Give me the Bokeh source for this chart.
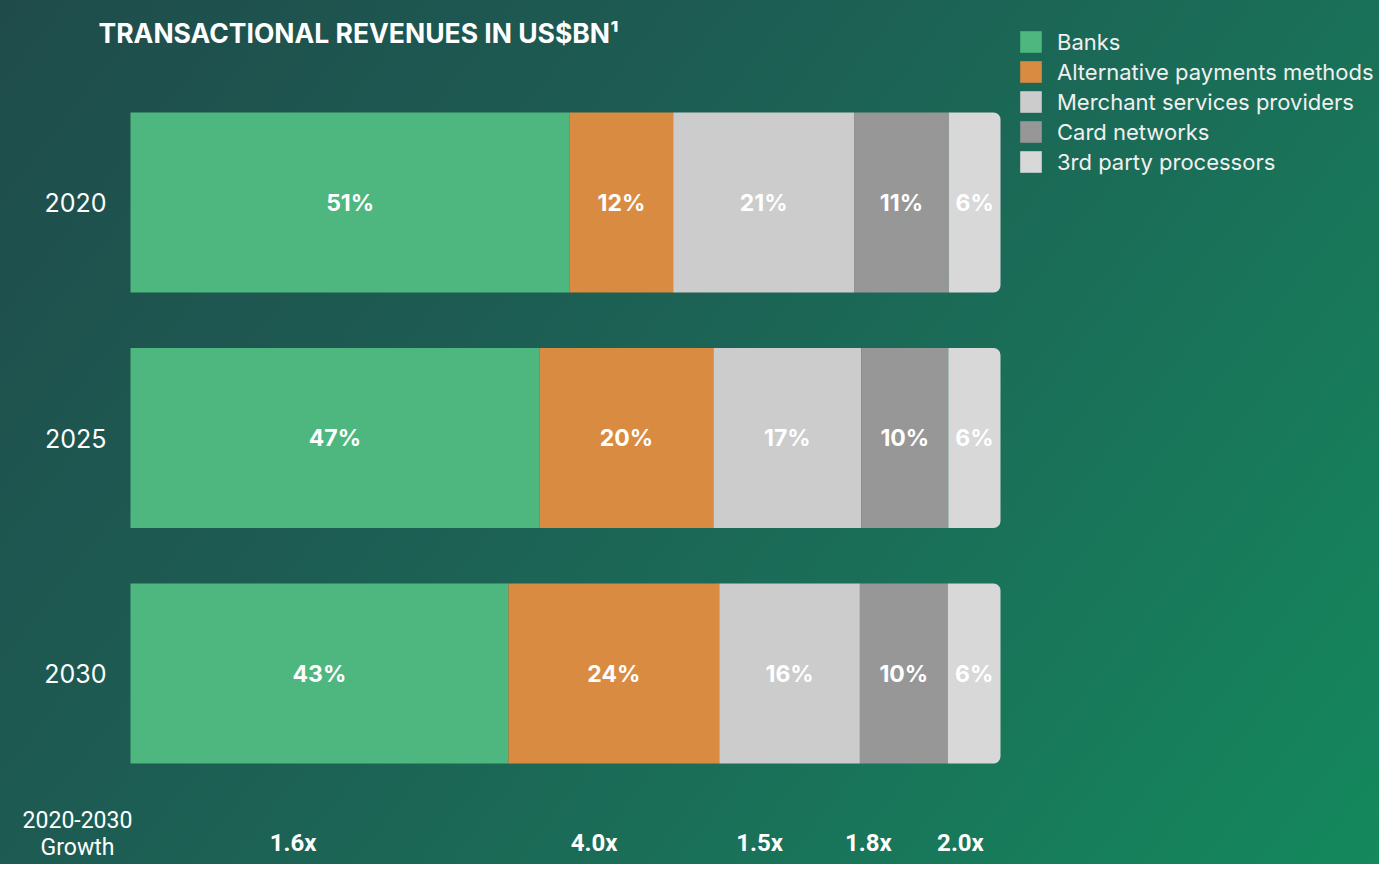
from bokeh.plotting import figure
from bokeh.models import ColumnDataSource, Range1d, Legend, LegendItem, Label
from bokeh.embed import file_html
from bokeh.resources import INLINE
from bokeh.core.properties import value

# ---- data ----
years = ["2020", "2025", "2030"]
segments = ["Banks", "Alternative payments methods", "Merchant services providers",
            "Card networks", "3rd party processors"]
banks = [51, 47, 43]
alt_payments = [12, 20, 24]
merchant_services = [21, 17, 16]
card_networks = [11, 10, 10]
third_party = [6, 6, 6]
growth_labels = ["1.6x", "4.0x", "1.5x", "1.8x", "2.0x"]
title_text = "TRANSACTIONAL REVENUES IN US$BN\u00b9"
growth_caption = "2020-2030\nGrowth"

# ---- layout / style ----
W, H = 1379, 864
X0, PX_PER_PCT = 130.0, 8.7          # bar start (px) and px per percent
Y0, PX_PER_ROW = 202.0, 235.5        # first bar centre (px) and row pitch (px)
growth_label_x = [18.7, 53.3, 72.3, 84.8, 95.4]
growth_row_y = 2.72
colors = ["#4eb77f", "#d98b42", "#cccccc", "#979797", "#d8d8d8"]
FONT = "Inter"

series = [banks, alt_payments, merchant_services, card_networks, third_party]
keys = ["banks", "alt", "msp", "card", "third"]
totals = [sum(vals) for vals in zip(*series)]
row_y = list(range(len(years)))

data = {"y": row_y}
for k, s in zip(keys, series):
    data[k] = [v / t * 100 for v, t in zip(s, totals)]
src = ColumnDataSource(data)

lab_x, lab_y, lab_t = [], [], []
for i in row_y:
    left = 0
    for k, s in zip(keys, series):
        w = data[k][i]
        lab_x.append(left + w / 2)
        lab_y.append(i)
        lab_t.append(f"{s[i]}%")
        left += w
lab_src = ColumnDataSource(dict(x=lab_x, y=lab_y, t=lab_t))

p = figure(width=W, height=H,
           x_range=Range1d(-X0 / PX_PER_PCT, (W - X0) / PX_PER_PCT),
           y_range=Range1d((H - Y0) / PX_PER_ROW, -Y0 / PX_PER_ROW),
           output_backend="svg", toolbar_location=None,
           min_border=0, min_border_left=0, min_border_right=0,
           min_border_top=0, min_border_bottom=0)
p.axis.visible = False
p.xgrid.visible = False
p.ygrid.visible = False
p.background_fill_color = None
p.border_fill_color = None
p.outline_line_color = None
p.styles = {"background": "linear-gradient(128deg, #1f4c4b 0%, #1d5c53 35%, #1a6f58 65%, #14895d 100%)"}

renderers = p.hbar_stack(keys, y="y", height=180 / PX_PER_ROW, fill_color=colors,
                         line_color=None, source=src)
renderers[-1].glyph.border_radius = (0, 7, 7, 0)

# percentage labels inside segments
p.text(x="x", y="y", text="t", source=lab_src, text_color="white",
       text_font=value(FONT), text_font_style="bold", text_font_size="23px",
       text_align="center", text_baseline="middle")

# year labels (left)
p.text(x=[(106 - X0) / PX_PER_PCT] * len(years), y=row_y, text=years,
       text_color="white", text_font=value(FONT), text_font_size="25px",
       text_align="right", text_baseline="middle")

# growth multiples (bottom)
p.text(x=growth_label_x, y=[growth_row_y] * len(growth_labels), text=growth_labels,
       text_color="white", text_font=value("Roboto"), text_font_style="bold",
       text_font_size="24px", text_align="center", text_baseline="middle")

# growth caption
p.add_layout(Label(x=(77 - X0) / PX_PER_PCT, y=(806 - Y0) / PX_PER_ROW, text=growth_caption,
                   text_align="center", text_baseline="top", text_color="white",
                   text_font="Roboto", text_font_size="23px", text_line_height=1.0))

# title
p.add_layout(Label(x=(98 - X0) / PX_PER_PCT, y=(32 - Y0) / PX_PER_ROW, text=title_text,
                   text_align="left", text_baseline="alphabetic", text_color="white",
                   text_font=FONT, text_font_style="bold", text_font_size="26.5px"))

legend = Legend(items=[LegendItem(label=s, renderers=[r]) for s, r in zip(segments, renderers)],
                location=(1017, H - 175), glyph_width=27, glyph_height=27, label_height=27,
                spacing=3, padding=0, margin=0, label_standoff=13,
                label_text_color="#f0f0f0", label_text_font=FONT,
                label_text_font_size="22px", background_fill_alpha=0,
                border_line_color=None)
p.add_layout(legend)

open("out.html", "w").write(file_html(p, INLINE))
